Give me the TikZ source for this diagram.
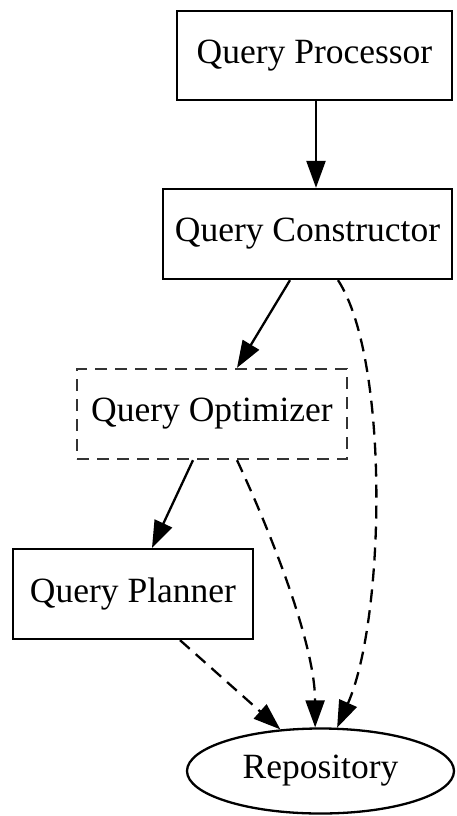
\documentclass[tikz,border=0pt]{standalone}
\usepackage{fontspec}
\setmainfont{Liberation Serif}
\usetikzlibrary{arrows.meta,shapes.geometric}
\begin{document}
\begin{tikzpicture}[x=1pt,y=1pt,
  every node/.style={font=\fontsize{35.5}{42}\selectfont, inner sep=0pt, line width=2.3pt},
  box/.style={draw, rectangle, anchor=center},
  dbox/.style={box, dash pattern=on 12pt off 8pt, draw=black!80},
  oval/.style={draw, ellipse, anchor=center},
  conn/.style={line width=2.3pt, -{Triangle[length=27pt,width=19pt]}},
  dconn/.style={conn, dash pattern=on 13pt off 8pt}]
\useasboundingbox (0,0) rectangle (456,-816);
\node[box, minimum width=275pt, minimum height=89pt] (proc) at (314.5,-55.5) {Query Processor};
\node[box, minimum width=289pt, minimum height=90pt] (cons) at (307.5,-234) {Query Constructor};
\node[dbox, minimum width=270pt, minimum height=90pt] (opt) at (212,-414) {Query Optimizer};
\node[box, minimum width=240pt, minimum height=90pt] (plan) at (133,-594) {Query Planner};
\node[oval, minimum width=267pt, minimum height=85pt] (repo) at (320.5,-771) {Repository};
\draw[conn] ([xshift=1.5pt]proc.south) -- ([xshift=8.5pt]cons.north);
\draw[conn] ([xshift=-17.5pt]cons.south) -- ([xshift=25pt]opt.north);
\draw[dconn] ([xshift=30.5pt]cons.south) .. controls (390,-360) and (385,-620) .. (repo.69);
\draw[conn] ([xshift=-19pt]opt.south) -- ([xshift=19pt]plan.north);
\draw[dconn] ([xshift=25pt]opt.south) .. controls (265,-520) and (315,-640) .. (repo.97);
\draw[dconn] ([xshift=47pt]plan.south) -- (repo.134);
\end{tikzpicture}
\end{document}
